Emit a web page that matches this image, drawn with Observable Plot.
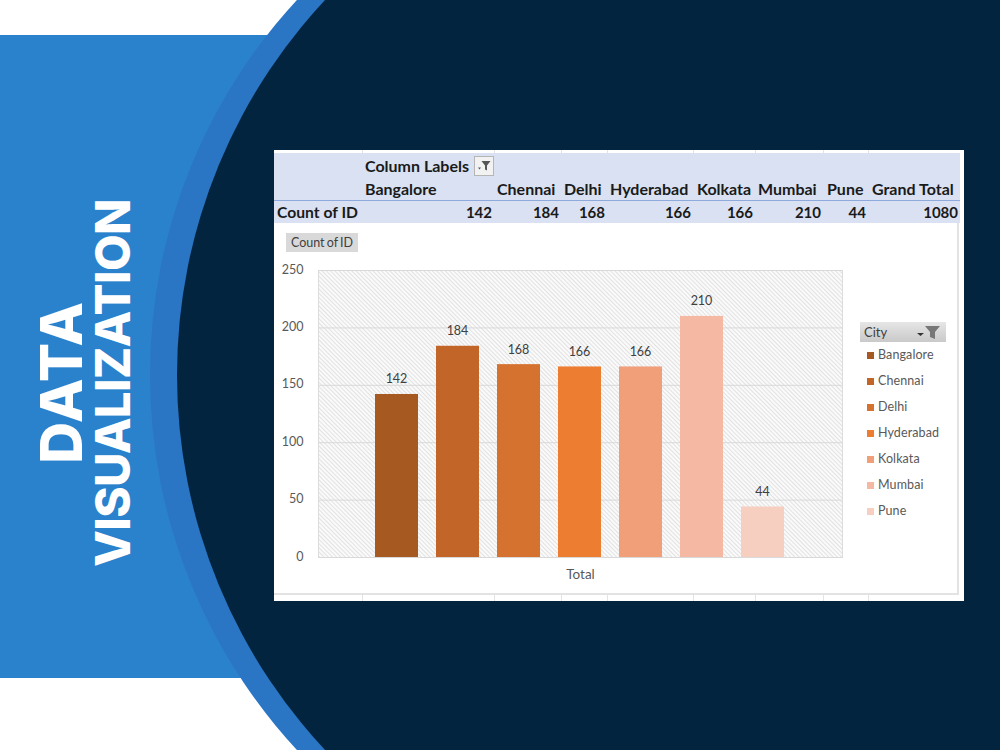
<!DOCTYPE html>
<html>
<head>
<meta charset="utf-8">
<script src="https://cdn.jsdelivr.net/npm/d3@7"></script>
<script src="https://cdn.jsdelivr.net/npm/@observablehq/plot@0.6"></script>
<style>
html,body{margin:0;padding:0;background:#fff;}
#stage{position:relative;width:1000px;height:750px;overflow:hidden;background:#fff;font-family:Lato,sans-serif;}
#stage>*{position:absolute;}
.circle{border-radius:50%;}
.t{position:absolute;white-space:nowrap;line-height:1;}
.b{font-weight:700;font-size:16px;color:#1a1a1a;}
.n{font-weight:700;font-size:15px;color:#1a1a1a;}
.title{color:#fff;font-family:Inter,sans-serif;font-weight:800;transform:translate(-50%,-50%) rotate(-90deg);white-space:nowrap;line-height:1;}
.leg{position:absolute;font-size:12.5px;color:#595959;white-space:nowrap;line-height:1;letter-spacing:.1px;}
.sw{position:absolute;width:7px;height:7px;}
.g{position:absolute;background:#e3e3e3;}
</style>
</head>
<body>
<div id="stage">
  <div style="left:0;top:35px;width:320px;height:643px;background:#2b82cc"></div>
  <div class="circle" style="left:150px;top:-177px;width:1104px;height:1104px;background:#2a75c4"></div>
  <div class="circle" style="left:177px;top:-174px;width:1098px;height:1098px;background:#02243f"></div>
  <div class="title" style="left:61px;top:382px;font-size:58px;letter-spacing:1.500px">DATA</div>
  <div class="title" style="left:113px;top:383px;font-size:47.500px;letter-spacing:-.6px">VISUALIZATION</div>
  <div id="panel" style="left:274px;top:150px;width:690px;height:451px;background:#fff"></div>
</div>
<script>
const cities = ["Bangalore","Chennai","Delhi","Hyderabad","Kolkata","Mumbai","Pune"];
const counts = [142,184,168,166,166,210,44];
const grandTotal = 1080;
const colors = ["#a65a22","#c26528","#d6722f","#ed7d31","#f09f79","#f4b8a3","#f7cfc1"];
const yTicks = [0,50,100,150,200,250];
const headerX = [365,497,564,610,697,758,827];
const valueRight = [492,559,605,691,753,821,866];
const legendY = [355,381,407,433,459,485,511];
const gridX = [362,494,561,607,693,755,823,868];

const data = cities.map((city,i)=>({city,count:counts[i]}));
const panel = document.getElementById("panel");
const PX = 274, PY = 150;

function add(html){ panel.insertAdjacentHTML("beforeend", html); }
function text(x,y,s,cls,extra=""){ add(`<div class="t ${cls}" style="left:${x-PX}px;top:${y-PY}px;${extra}">${s}</div>`); }
function textR(x,y,s,cls){ add(`<div class="t ${cls}" style="right:${PX+690-x}px;top:${y-PY}px">${s}</div>`); }

// pivot table band
add(`<div style="position:absolute;left:0;top:3px;width:686px;height:70px;background:#d9e1f2"></div>`);
add(`<div style="position:absolute;left:0;top:50px;width:686px;height:1px;background:#8ea9db"></div>`);
gridX.forEach(x=>{
  add(`<div class="g" style="left:${x-PX}px;top:0;width:1px;height:3px"></div>`);
  add(`<div class="g" style="left:${x-PX}px;top:444px;width:1px;height:7px"></div>`);
});
text(365,158,"Column Labels","b");
add(`<div style="position:absolute;left:200px;top:6px;width:20px;height:20px;background:#f2f2f2;border:1px solid #b5b5b5;box-sizing:border-box">
<svg width="18" height="18" viewBox="0 0 18 18"><path d="M6.500 4h9l-3.500 4.500v5l-2-1v-4z" fill="#555"/><path d="M3 10.500h3l-1.500 2z" fill="#555"/></svg></div>`);
cities.forEach((c,i)=>text(headerX[i],181,c,"b"));
text(872,181,"Grand Total","b");
text(277,205,"Count of ID","b","font-size:15.7px");
counts.forEach((v,i)=>textR(valueRight[i],205,v,"n"));
textR(958,205,grandTotal,"n");

// Chart
const defs = () => {
  const ns = "http://www.w3.org/2000/svg";
  const d = document.createElementNS(ns,"defs");
  d.innerHTML = `<pattern id="hatch" width="3" height="3" patternUnits="userSpaceOnUse" patternTransform="rotate(45)"><rect width="3" height="3" fill="#fafafa"/><line x1="0" y1="0.500" x2="3" y2="0.500" stroke="#e2e2e2" stroke-width="1"/></pattern>`;
  return d;
};
const chart = Plot.plot({
  width:690, height:451,
  marginLeft:44, marginRight:122, marginTop:120, marginBottom:44,
  style:{background:"transparent",fontFamily:"Lato,sans-serif",color:"#595959",overflow:"visible"},
  x:{domain:cities,axis:null,paddingInner:.3,paddingOuter:.92,range:[43,567]},
  y:{domain:[0,250],ticks:yTicks},
  color:{domain:cities,range:colors},
  marks:[
    defs,
    Plot.frame({fill:"url(#hatch)",stroke:"#dcdcdc"}),
    Plot.gridY(yTicks,{stroke:"#d9d9d9",strokeOpacity:1}),
    Plot.axisY({ticks:yTicks,tickSize:0,tickPadding:15,fontSize:12.5,label:null,fill:"#595959",dy:-1}),
    Plot.barY(data,{x:"city",y:"count",fill:"city"}),
    Plot.text(data,{x:"city",y:"count",text:"count",dy:-15,dx:-0.5,fontSize:12.5,fill:"#404040"}),
    Plot.text(["Total"],{frameAnchor:"bottom",dy:21,fontSize:13.500,fill:"#595959"})
  ]
});
chart.style.position="absolute"; chart.style.left="0"; chart.style.top="0";
panel.appendChild(chart);

// chart surround lines
add(`<div class="g" style="left:0;top:443px;width:685px;height:2px"></div>`);
add(`<div class="g" style="left:683px;top:73px;width:2px;height:372px"></div>`);

// Count of ID button
add(`<div style="position:absolute;left:12px;top:83px;width:72px;height:19px;background:#d9d9d9;color:#404040;font-size:12.500px;line-height:19px;text-align:center;word-spacing:-1px">Count of ID</div>`);

// Legend
add(`<div style="position:absolute;left:586px;top:172px;width:86px;height:20px;background:linear-gradient(#e6e6e6,#c9c9c9);color:#404040;font-size:13px;line-height:20px;padding-left:4px;box-sizing:border-box">City
<svg style="position:absolute;right:3px;top:2px" width="28" height="16" viewBox="0 0 28 16"><path d="M10 2h15l-5 6v7l-5-2v-5z" fill="#777"/><path d="M2 9h7l-3.500 3z" fill="#333"/></svg></div>`);
cities.forEach((c,i)=>{
  add(`<div class="sw" style="left:${867-PX}px;top:${legendY[i]-PY-3}px;background:${colors[i]}"></div>`);
  add(`<div class="leg" style="left:${878-PX}px;top:${legendY[i]-PY-6}px">${c}</div>`);
});
</script>
</body>
</html>
